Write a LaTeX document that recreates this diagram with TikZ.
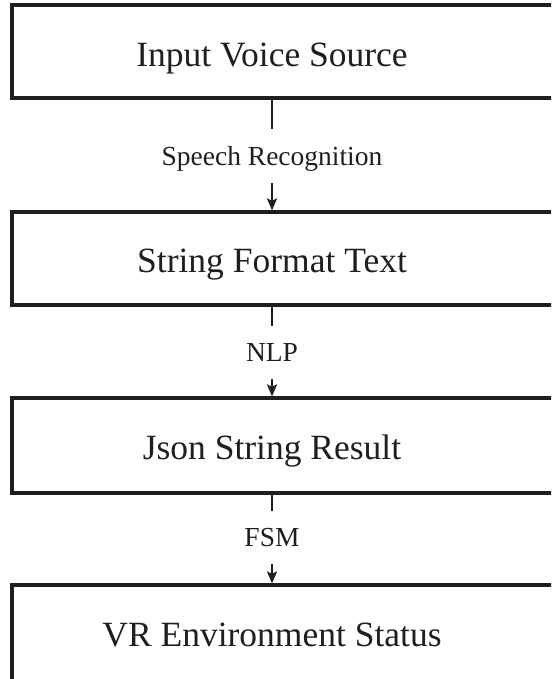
\documentclass[tikz,border=0pt]{standalone}
\usepackage{fontspec}
\setmainfont{Liberation Serif}
\usetikzlibrary{arrows.meta}
\tikzset{
  boxnode/.style={draw=black!88, line width=3.2pt, rectangle, minimum width=563pt, inner sep=0pt},
  boxtext/.style={anchor=base, inner sep=0pt, font=\fontsize{35.5}{40}\selectfont, text=black!88},
  steplabel/.style={anchor=base, font=\fontsize{27.5}{32}\selectfont, text=black!88, text height=19pt, text depth=0pt, inner ysep=17pt, inner xsep=2pt},
  conn/.style={draw=black!88, line width=2.3pt},
  connarrow/.style={conn, -{Stealth[length=12pt,width=10pt,inset=2.5pt]}}
}
\begin{document}
\begin{tikzpicture}[x=1pt,y=-1pt]
\clip (0,0) rectangle (551,679);
\fill[white] (0,0) rectangle (551,679);
% boxes
\node[boxnode, minimum height=93pt] (b1) at (293.5,51.5) {};
\node[boxnode, minimum height=93pt] (b2) at (293.5,258.5) {};
\node[boxnode, minimum height=95pt] (b3) at (293.5,445.5) {};
\node[boxnode, minimum height=98pt] (b4) at (293.5,634) {};
% box texts
\node[boxtext] (t1) at (272,67) {Input Voice Source};
\node[boxtext] (t2) at (272,272) {String Format Text};
\node[boxtext] (t3) at (272,459) {Json String Result};
\node[boxtext] (t4) at (272,646) {VR Environment Status};
% labels
\node[steplabel] (l1) at (272,165.7) {Speech Recognition};
\node[steplabel] (l2) at (272,361.7) {NLP};
\node[steplabel] (l3) at (272,546.7) {FSM};
% connectors
\draw[conn] (b1.south -| l1) -- (l1.north);
\draw[connarrow] (l1.south) -- (l1 |- b2.north);
\draw[conn] (b2.south -| l2) -- (l2.north);
\draw[connarrow] (l2.south) -- (l2 |- b3.north);
\draw[conn] (b3.south -| l3) -- (l3.north);
\draw[connarrow] (l3.south) -- (l3 |- b4.north);
\end{tikzpicture}
\end{document}
